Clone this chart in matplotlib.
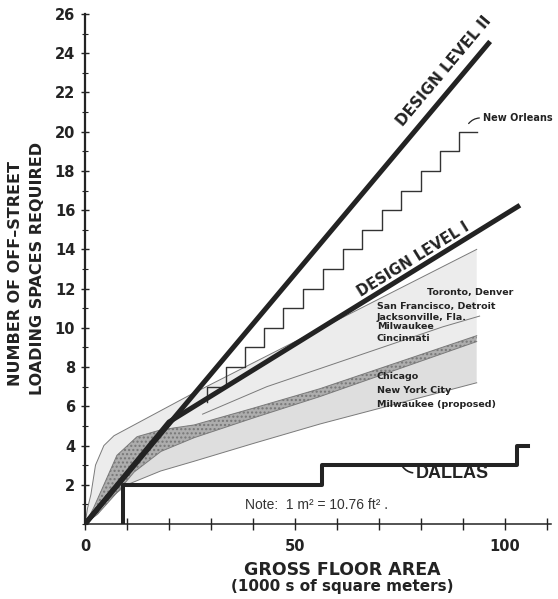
import matplotlib
matplotlib.use("Agg")
import matplotlib.pyplot as plt
import numpy as np
from matplotlib.ticker import MultipleLocator, FixedLocator

# ---------------- data ----------------
# Design level lines (x: 1000 m^2, y: loading spaces)
design2_x = [0, 96.5]
design2_y = [0, 24.6]
design1_x = [0, 20, 103.6]
design1_y = [0, 5.2, 16.25]

# New Orleans staircase (steps-post)
neworleans_x = [29, 29, 33.6, 38.1, 42.6, 47.2, 51.9, 56.7, 61.4, 66.0, 70.8, 75.2, 80.0, 84.5, 89.1, 93.3]
neworleans_y = [6.2, 7, 8, 9, 10, 11, 12, 13, 14, 15, 16, 17, 18, 19, 20, 20]

# Dallas staircase (steps-post)
dallas_x = [9, 9, 56.4, 103, 105.5]
dallas_y = [0, 2, 3, 4, 4]

# Band boundaries
top_x = [0, 0.6, 1.4, 2.5, 4.5, 6.9, 25.2, 93.3]
top_y = [0, 0.8, 1.5, 3.0, 4.0, 4.5, 6.6, 14.0]
htop_x = [0, 2, 4.5, 7.6, 12.4, 18.1, 26, 40, 56, 93.3]
htop_y = [0, 0.8, 2.0, 3.5, 4.45, 4.8, 5.05, 5.9, 6.9, 9.6]
hbot_x = [0, 3, 7.6, 11.7, 18.1, 26, 40, 56, 93.3]
hbot_y = [0, 0.5, 1.6, 2.65, 3.7, 4.4, 5.4, 6.5, 9.3]
low_x = [0, 4, 10, 18, 26, 40, 56, 93.3]
low_y = [0, 1.0, 2.0, 2.7, 3.2, 4.1, 5.1, 7.2]
mid_x = [28, 43.3, 85.2, 94]
mid_y = [5.6, 7.0, 10.05, 10.6]

# Ticks
y_major = [2, 4, 6, 8, 10, 12, 14, 16, 18, 20, 22, 24, 26]
y_labels = ["2", "4", "6", "8", "10", "12", "14", "16", "18", "20", "22", "24", "26"]
x_major = [0, 10, 20, 30, 40, 50, 60, 70, 80, 90, 100, 110]
x_labels = ["0", "", "", "", "", "50", "", "", "", "", "100", ""]

group1 = ["Toronto, Denver", "San Francisco, Detroit", "Jacksonville, Fla.", "Milwaukee", "Cincinnati"]
group1_pos = [(81.4, 11.8), (69.5, 11.1), (69.5, 10.55), (69.5, 10.05), (69.5, 9.45)]
group2 = ["Chicago", "New York City", "Milwaukee (proposed)"]
group2_pos = [(69.5, 7.5), (69.5, 6.8), (69.5, 6.1)]

# ---------------- figure ----------------
W, H = 558, 599
fig = plt.figure(figsize=(W / 100, H / 100), dpi=100)
ax = fig.add_axes([85 / W, 1 - 524 / H, 466 / W, 510 / H])
ax.set_xlim(0, 111)
ax.set_ylim(0, 26)

ink = "#232323"

# bands
ax.fill(np.concatenate([top_x, htop_x[::-1]]), np.concatenate([top_y, htop_y[::-1]]),
        color="#ececec", lw=0, zorder=1)
ax.fill(np.concatenate([hbot_x, low_x[::-1]]), np.concatenate([hbot_y, low_y[::-1]]),
        color="#dedede", lw=0, zorder=1)
ax.fill(np.concatenate([htop_x, hbot_x[::-1]]), np.concatenate([htop_y, hbot_y[::-1]]),
        facecolor="#adadad", edgecolor="#777777", hatch="....", lw=0, zorder=1.5)
for bx, by in [(top_x, top_y), (htop_x, htop_y), (hbot_x, hbot_y), (low_x, low_y), (mid_x, mid_y)]:
    ax.plot(bx, by, color="#7a7a7a", lw=0.7, zorder=2)

# New Orleans staircase
ax.plot(neworleans_x, neworleans_y, drawstyle="steps-post", color="#333333", lw=1.0, zorder=3)

# Design lines
ax.plot(design2_x, design2_y, color=ink, lw=3.6, solid_capstyle="butt", zorder=4)
ax.plot(design1_x, design1_y, color=ink, lw=3.6, solid_capstyle="butt", zorder=4)

# Dallas
ax.plot(dallas_x, dallas_y, drawstyle="steps-post", color=ink, lw=2.9, zorder=4)

# ---------------- axes styling ----------------
for s in ["top", "right"]:
    ax.spines[s].set_visible(False)
ax.spines["left"].set_linewidth(1.6)
ax.spines["left"].set_color(ink)
ax.spines["bottom"].set_linewidth(1.1)
ax.spines["bottom"].set_color(ink)
ax.spines["left"].set_bounds(0, 26)
ax.spines["bottom"].set_bounds(0, 111)

ax.yaxis.set_major_locator(FixedLocator(y_major))
ax.set_yticklabels(y_labels)
ax.yaxis.set_minor_locator(MultipleLocator(1))
ax.xaxis.set_major_locator(FixedLocator(x_major))
ax.set_xticklabels(x_labels)

for lab in ax.get_yticklabels() + ax.get_xticklabels():
    lab.set_fontfamily("DejaVu Sans")
    lab.set_fontweight("bold")
    lab.set_fontsize(10.5)
    lab.set_color(ink)
ax.tick_params(axis="y", which="major", direction="inout", length=6, width=1, pad=4, colors=ink)
ax.tick_params(axis="y", which="minor", direction="inout", length=4, width=0.8, colors=ink)
ax.tick_params(axis="x", which="major", direction="inout", length=9, width=1, pad=6, colors=ink)

# ---------------- text ----------------
fig.text(16 / W, 1 - 274 / H, "NUMBER OF OFF–STREET", rotation=90, ha="center", va="center",
         family="DejaVu Sans", weight="bold", size=11.5, color=ink)
fig.text(38 / W, 1 - 268 / H, "LOADING SPACES REQUIRED", rotation=90, ha="center", va="center",
         family="DejaVu Sans", weight="bold", size=11.5, color=ink)
fig.text(342 / W, 1 - 570 / H, "GROSS FLOOR AREA", ha="center", va="center",
         family="DejaVu Sans", weight="bold", size=12.5, color=ink)
fig.text(342 / W, 1 - 587 / H, "(1000 s of square meters)", ha="center", va="center",
         family="DejaVu Sans", weight="bold", size=11, color=ink)

ax.text(38.1, 0.97, "Note:  1 m² = 10.76 ft² .", ha="left", va="center",
        family="Liberation Sans", size=10, color="#333333")
ax.text(78.8, 2.6, "DALLAS", ha="left", va="center",
        family="Liberation Sans", weight="bold", size=13, color=ink)
ax.annotate("", xy=(75.3, 3.05), xytext=(78.7, 2.6),
            arrowprops=dict(arrowstyle="-", color=ink, lw=1.2, connectionstyle="arc3,rad=-0.3"))

ax.text(94.8, 20.7, "New Orleans", ha="left", va="center",
        family="DejaVu Sans", weight="bold", size=7, color=ink, clip_on=False)
ax.annotate("", xy=(91.0, 20.3), xytext=(94.6, 20.7),
            arrowprops=dict(arrowstyle="-", color=ink, lw=0.9, connectionstyle="arc3,rad=0.3"))

for t, (px, py) in zip(group1, group1_pos):
    ax.text(px, py, t, ha="left", va="center", family="DejaVu Sans", weight="bold", size=6.8, color=ink)
for t, (px, py) in zip(group2, group2_pos):
    ax.text(px, py, t, ha="left", va="center", family="DejaVu Sans", weight="bold", size=6.8, color=ink)

# rotated design level labels
def screen_angle(x0, y0, x1, y1):
    p0 = ax.transData.transform((x0, y0))
    p1 = ax.transData.transform((x1, y1))
    return np.degrees(np.arctan2(p1[1] - p0[1], p1[0] - p0[0]))

a2 = screen_angle(design2_x[0], design2_y[0], design2_x[-1], design2_y[-1])
a1 = screen_angle(design1_x[1], design1_y[1], design1_x[-1], design1_y[-1])
ax.text(85.6, 23.1, "DESIGN LEVEL II", rotation=a2, rotation_mode="anchor", ha="center", va="center",
        family="DejaVu Sans", weight="bold", size=11, color=ink)
ax.text(78.3, 13.5, "DESIGN LEVEL I", rotation=a1, rotation_mode="anchor", ha="center", va="center",
        family="DejaVu Sans", weight="bold", size=10.5, color=ink)

fig.savefig("out.png", dpi=100)
